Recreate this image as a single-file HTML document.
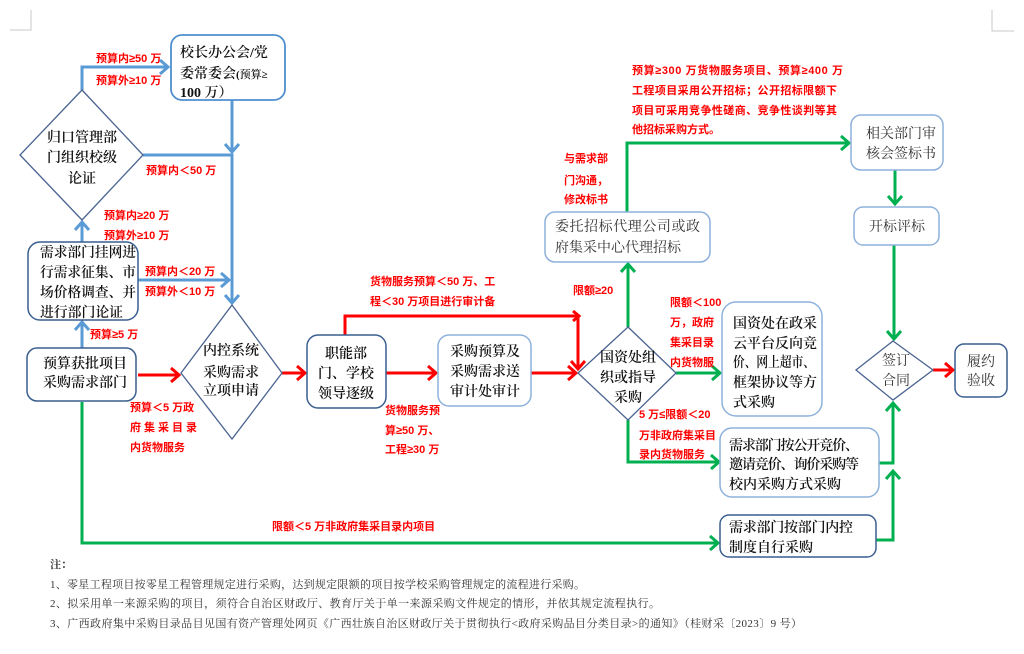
<!DOCTYPE html>
<html><head><meta charset="utf-8">
<style>
html,body{margin:0;padding:0;background:#fff;}
svg{display:block;}
.t{font-family:"Liberation Serif","Noto Serif CJK SC",serif;font-size:14px;fill:#111;font-weight:600;}
.g{font-family:"Liberation Serif","Noto Serif CJK SC",serif;font-size:14px;fill:#333;font-weight:400;}
.r{font-family:"Liberation Sans","Noto Sans CJK SC",sans-serif;font-size:11px;fill:#ff0000;font-weight:700;}
.n{font-family:"Liberation Serif","Noto Serif CJK SC",serif;font-size:11px;fill:#333;}
.bl{stroke:#5b9bd5;stroke-width:3;fill:none;}
.rd{stroke:#ff0000;stroke-width:3;fill:none;}
.gr{stroke:#00b050;stroke-width:3;fill:none;}
.bd{fill:#fff;stroke:#3a5f8f;stroke-width:1.5;}
.bm{fill:#fff;stroke:#4f8fd0;stroke-width:1.8;}
.bli{fill:#fff;stroke:#8eb1dc;stroke-width:1.5;}
.dm{fill:#fff;stroke:#4a6390;stroke-width:1.3;}
</style></head>
<body>
<svg width="1024" height="654" viewBox="0 0 1024 654" xmlns="http://www.w3.org/2000/svg">
<polyline points="10,30 31,30 31,10" fill="none" stroke="#c8c8c8" stroke-width="1"/>
<polyline points="992,10 992,31 1014,31" fill="none" stroke="#c8c8c8" stroke-width="1"/>

<polyline class="bl" points="82,90 82,67 168,67"/><polyline class="bl" points="160,60 168,67 160,74"/>
<line class="bl" x1="232" y1="100" x2="232" y2="152"/><polyline class="bl" points="225,144 232,152 239,144"/>
<polyline class="bl" points="143,155 232,155 232,303"/><polyline class="bl" points="225,295 232,303 239,295"/>
<line class="bl" x1="82" y1="242" x2="82" y2="222"/><polyline class="bl" points="75,230 82,222 89,230"/>
<line class="bl" x1="138" y1="280" x2="229" y2="280"/><polyline class="bl" points="221,273 229,280 221,287"/>
<line class="bl" x1="82" y1="348" x2="82" y2="322"/><polyline class="bl" points="75,330 82,322 89,330"/>

<line class="rd" x1="138" y1="375" x2="179" y2="375"/><polyline class="rd" points="171,368 179,375 171,382"/>
<line class="rd" x1="282" y1="373" x2="305" y2="373"/><polyline class="rd" points="297,366 305,373 297,380"/>
<polyline class="rd" points="345,335 345,316 578,316 578,369"/><polyline class="rd" points="571,361 578,369 585,361"/>
<polyline class="rd" points="573,311 579,316 573,321" stroke-width="2"/>
<line class="rd" x1="386" y1="373" x2="436" y2="373"/><polyline class="rd" points="428,366 436,373 428,380"/>
<line class="rd" x1="531" y1="373" x2="576" y2="373"/><polyline class="rd" points="568,366 576,373 568,380"/>
<line class="rd" x1="933" y1="370" x2="953" y2="370"/><polyline class="rd" points="945,363 953,370 945,377"/>

<line class="gr" x1="628" y1="327" x2="628" y2="264"/><polyline class="gr" points="621,272 628,264 635,272"/>
<polyline class="gr" points="627,212 627,143 849,143"/><polyline class="gr" points="841,136 849,143 841,150"/>
<line class="gr" x1="895" y1="170" x2="895" y2="204"/><polyline class="gr" points="888,196 895,204 902,196"/>
<line class="gr" x1="894" y1="245" x2="894" y2="339"/><polyline class="gr" points="887,331 894,339 901,331"/>
<line class="gr" x1="676" y1="373" x2="720" y2="373"/><polyline class="gr" points="712,366 720,373 712,380"/>
<polyline class="gr" points="628,420 628,462 719,462"/><polyline class="gr" points="711,455 719,462 711,469"/>
<polyline class="gr" points="879,463 893,463 893,403"/><polyline class="gr" points="886,411 893,403 900,411"/>
<polyline class="gr" points="876,540 893,540 893,471"/><polyline class="gr" points="886,479 893,471 900,479"/>
<polyline class="gr" points="82,402 82,543 718,543"/><polyline class="gr" points="710,536 718,543 710,550"/>

<rect class="bm" x="171" y="35" width="114" height="65" rx="11"/>
<polygon class="dm" points="82,90 143,155 82,220 20,155"/>
<rect class="bd" x="28" y="242" width="110" height="78" rx="12"/>
<rect class="bd" x="27" y="348" width="109" height="53" rx="10"/>
<polygon class="dm" points="232,305 282,373 232,439 181,373"/>
<rect class="bd" x="307" y="335" width="79" height="73" rx="11"/>
<rect class="bli" x="438" y="335" width="93" height="71" rx="11"/>
<polygon class="dm" points="628,327 676,373 628,420 578,373"/>
<rect class="bli" x="545" y="212" width="165" height="50" rx="10"/>
<rect class="bli" x="851" y="115" width="92" height="55" rx="10"/>
<rect class="bli" x="854" y="207" width="85" height="38" rx="9"/>
<rect class="bli" x="722" y="302" width="100" height="114" rx="14"/>
<rect class="bli" x="720" y="428" width="159" height="69" rx="12"/>
<rect class="bd" x="720" y="515" width="156" height="42" rx="9"/>
<polygon class="dm" points="893,341 933,370 893,400 856,370"/>
<rect class="bd" x="955" y="344" width="52" height="53" rx="9"/>

<text class="t" x="180" y="57">校长办公会/党</text>
<text class="t" x="180" y="78">委常委会<tspan font-size="11">(预算≥</tspan></text>
<text class="t" x="180" y="97" font-size="12">100 万）</text>

<text class="t" x="82" y="142" text-anchor="middle">归口管理部</text>
<text class="t" x="82" y="162" text-anchor="middle">门组织校级</text>
<text class="t" x="82" y="183" text-anchor="middle">论证</text>

<text class="t" x="40" y="257" textLength="96" lengthAdjust="spacingAndGlyphs">需求部门挂网进</text>
<text class="t" x="40" y="277" textLength="96" lengthAdjust="spacingAndGlyphs">行需求征集、市</text>
<text class="t" x="40" y="297" textLength="96" lengthAdjust="spacingAndGlyphs">场价格调查、并</text>
<text class="t" x="40" y="317" textLength="83" lengthAdjust="spacingAndGlyphs">进行部门论证</text>

<text class="t" x="43" y="368">预算获批项目</text>
<text class="t" x="43" y="387">采购需求部门</text>

<text class="t" x="231" y="355" text-anchor="middle">内控系统</text>
<text class="t" x="231" y="377" text-anchor="middle">采购需求</text>
<text class="t" x="231" y="395" text-anchor="middle">立项申请</text>

<text class="t" x="346" y="358" text-anchor="middle">职能部</text>
<text class="t" x="346" y="378" text-anchor="middle">门、学校</text>
<text class="t" x="346" y="398" text-anchor="middle">领导逐级</text>

<text class="t" x="485" y="356" text-anchor="middle">采购预算及</text>
<text class="t" x="485" y="376" text-anchor="middle">采购需求送</text>
<text class="t" x="485" y="396" text-anchor="middle">审计处审计</text>

<text class="t" x="628" y="362" text-anchor="middle">国资处组</text>
<text class="t" x="628" y="382" text-anchor="middle">织或指导</text>
<text class="t" x="628" y="402" text-anchor="middle">采购</text>

<text class="g" x="555" y="231" textLength="145" lengthAdjust="spacing">委托招标代理公司或政</text>
<text class="g" x="555" y="252">府集采中心代理招标</text>

<text class="g" x="866" y="138">相关部门审</text>
<text class="g" x="866" y="158">核会签标书</text>
<text class="g" x="869" y="231">开标评标</text>

<text class="t" x="733" y="328" font-size="13.5">国资处在政采</text>
<text class="t" x="733" y="348" font-size="13.5">云平台反向竞</text>
<text class="t" x="733" y="367" font-size="13.5" textLength="82" lengthAdjust="spacingAndGlyphs">价、网上超市、</text>
<text class="t" x="733" y="387" font-size="13.5">框架协议等方</text>
<text class="t" x="733" y="407" font-size="13.5">式采购</text>

<text class="t" x="729" y="450" font-size="13" textLength="130" lengthAdjust="spacing">需求部门按公开竞价、</text>
<text class="t" x="729" y="469" font-size="13" textLength="130" lengthAdjust="spacing">邀请竞价、询价采购等</text>
<text class="t" x="729" y="489" font-size="13">校内采购方式采购</text>

<text class="t" x="729" y="532" textLength="124" lengthAdjust="spacing">需求部门按部门内控</text>
<text class="t" x="729" y="552">制度自行采购</text>

<text class="g" x="882" y="365">签订</text>
<text class="g" x="882" y="385">合同</text>
<text class="g" x="967" y="366">履约</text>
<text class="g" x="967" y="385">验收</text>

<text class="r" x="96" y="62">预算内≥50 万</text>
<text class="r" x="96" y="84">预算外≥10 万</text>
<text class="r" x="146" y="174">预算内＜50 万</text>
<text class="r" x="104" y="219">预算内≥20 万</text>
<text class="r" x="104" y="239">预算外≥10 万</text>
<text class="r" x="145" y="275">预算内＜20 万</text>
<text class="r" x="145" y="295">预算外＜10 万</text>
<text class="r" x="90" y="338">预算≥5 万</text>
<text class="r" x="130" y="411">预算＜5 万政</text>
<text class="r" x="130" y="431" textLength="67" lengthAdjust="spacing">府集采目录</text>
<text class="r" x="130" y="451">内货物服务</text>

<text class="r" x="370" y="285">货物服务预算＜50 万、工</text>
<text class="r" x="370" y="305">程＜30 万项目进行审计备</text>
<text class="r" x="385" y="414">货物服务预</text>
<text class="r" x="385" y="434">算≥50 万、</text>
<text class="r" x="385" y="453">工程≥30 万</text>

<text class="r" x="632" y="74" textLength="211" lengthAdjust="spacing">预算≥300 万货物服务项目、预算≥400 万</text>
<text class="r" x="632" y="94" textLength="205" lengthAdjust="spacing">工程项目采用公开招标；公开招标限额下</text>
<text class="r" x="632" y="114" textLength="205" lengthAdjust="spacing">项目可采用竞争性磋商、竞争性谈判等其</text>
<text class="r" x="632" y="133">他招标采购方式。</text>

<text class="r" x="564" y="162">与需求部</text>
<text class="r" x="564" y="184">门沟通，</text>
<text class="r" x="564" y="203">修改标书</text>
<text class="r" x="573" y="294">限额≥20</text>

<text class="r" x="670" y="306">限额＜100</text>
<text class="r" x="670" y="326">万，政府</text>
<text class="r" x="670" y="346">集采目录</text>
<text class="r" x="670" y="366">内货物服</text>

<text class="r" x="639" y="418">5 万≤限额＜20</text>
<text class="r" x="639" y="439">万非政府集采目</text>
<text class="r" x="639" y="458">录内货物服务</text>

<text class="r" x="272" y="530">限额＜5 万非政府集采目录内项目</text>

<text class="n" x="50" y="568" font-weight="700">注：</text>
<text class="n" x="50" y="588" textLength="535" lengthAdjust="spacing">1、零星工程项目按零星工程管理规定进行采购，达到规定限额的项目按学校采购管理规定的流程进行采购。</text>
<text class="n" x="50" y="607" textLength="610" lengthAdjust="spacing">2、拟采用单一来源采购的项目，须符合自治区财政厅、教育厅关于单一来源采购文件规定的情形，并依其规定流程执行。</text>
<text class="n" x="50" y="627" textLength="752" lengthAdjust="spacing">3、广西政府集中采购目录品目见国有资产管理处网页《广西壮族自治区财政厅关于贯彻执行&lt;政府采购品目分类目录&gt;的通知》（桂财采〔2023〕9 号）</text>
</svg>
</body></html>
